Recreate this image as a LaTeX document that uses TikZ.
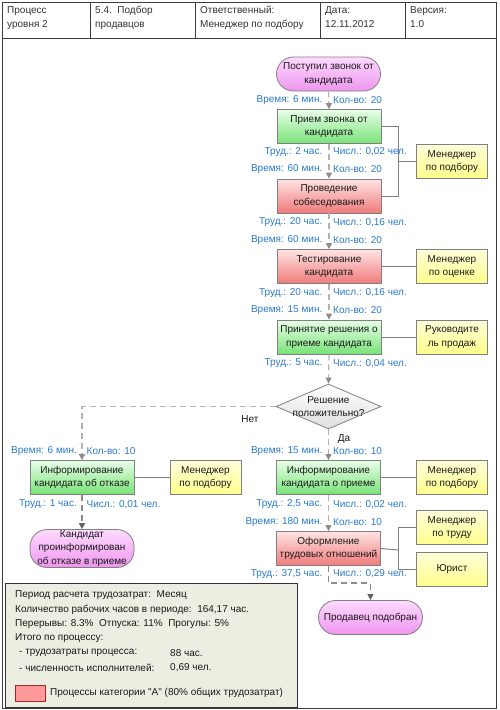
\documentclass[tikz,border=0pt]{standalone}
\usepackage{fontspec}
\newfontfamily\lsans{Liberation Sans}
\setmainfont{Liberation Sans}
\usetikzlibrary{shapes.geometric,arrows.meta}
\definecolor{lbl}{RGB}{40,122,204}
\definecolor{bord}{RGB}{128,128,128}
\definecolor{dashc}{RGB}{178,178,178}
\definecolor{dashd}{RGB}{140,140,140}
\definecolor{tipc}{RGB}{140,140,140}
\definecolor{tipd}{RGB}{100,100,100}
\definecolor{txt}{RGB}{25,25,25}
\definecolor{legbg}{RGB}{236,238,226}
\definecolor{legred}{RGB}{255,153,153}
\begin{document}
\begin{tikzpicture}[x=1pt,y=-1pt,
  font=\lsans\fontsize{10}{13.5}\selectfont, text=txt,
  box/.style={draw=bord, line width=0.8pt, minimum width=104pt, minimum height=34pt, inner sep=1pt, align=center},
  grn/.style={box, top color={rgb,255:red,232;green,255;blue,232}, bottom color={rgb,255:red,120;green,226;blue,120}},
  redb/.style={box, top color={rgb,255:red,255;green,228;blue,228}, bottom color={rgb,255:red,240;green,122;blue,122}},
  yel/.style={box, minimum width=71pt, top color={rgb,255:red,255;green,255;blue,218}, bottom color={rgb,255:red,255;green,255;blue,140}},
  term/.style={box, rounded corners=17pt, top color={rgb,255:red,255;green,218;blue,255}, bottom color={rgb,255:red,238;green,150;blue,238}},
  decision/.style={diamond, draw=bord, line width=0.8pt, minimum width=105pt, minimum height=45pt, inner sep=0pt, top color=white, bottom color={rgb,255:red,222;green,222;blue,222}},
  lblL/.style={anchor=east, text=lbl, inner sep=0pt},
  lblR/.style={anchor=west, text=lbl, inner sep=0pt},
  flow/.style={draw=dashc, line width=1.2pt, dash pattern=on 6pt off 4pt, -{Triangle[width=6pt,length=6pt,color=tipc]}},
  flowd/.style={draw=dashd, line width=1.2pt, dash pattern=on 6pt off 4pt, -{Triangle[width=6pt,length=6pt,color=tipd]}},
  role/.style={draw=bord, line width=1pt},
  hdr/.style={anchor=north west, align=left, inner sep=0pt, text={rgb,255:red,50;green,50;blue,50}, font=\lsans\fontsize{10}{14}\selectfont},
  legt/.style={anchor=west, inner sep=0pt}
]
\useasboundingbox (0,0) rectangle (499,710);
% frame and header
\draw[draw={rgb,255:red,60;green,60;blue,60}, line width=1pt] (2,2) rectangle (496,708);
\draw[draw={rgb,255:red,60;green,60;blue,60}, line width=1pt] (2,38) -- (496,38);
\foreach \xx in {90,195,320,405} \draw[draw={rgb,255:red,60;green,60;blue,60}, line width=1pt] (\xx,2) -- (\xx,38);
\node[hdr] (h1) at (7,6) {Процесс\\уровня 2};
\node[hdr] (h2) at (95,6) {5.4.\ \ Подбор\\продавцов};
\node[hdr] (h3) at (200,6) {Ответственный:\\Менеджер по подбору};
\node[hdr] (h4) at (325,6) {Дата:\\12.11.2012};
\node[hdr] (h5) at (410,6) {Версия:\\1.0};

% main column
\node[term] (start) at (328.5,74) {Поступил звонок от\\кандидата};
\node[grn] (b1) at (329,126.5) {Прием звонка от\\кандидата};
\node[redb] (b2) at (329,196) {Проведение\\собеседования};
\node[redb] (b3) at (329,266.5) {Тестирование\\кандидата};
\node[grn] (b4) at (329,337) {Принятие решения о\\приеме кандидата};
\node[decision] (d) at (328.5,406.5) {};
\node (dt) at (328.5,406.5) [align=center, inner sep=0pt] {Решение\\положительно?};
\node[grn] (b5) at (328.5,477.5) {Информирование\\кандидата о приеме};
\node[redb] (b6) at (328.5,548.5) {Оформление\\трудовых отношений};
\node[term] (end) at (370.5,617.5) {Продавец подобран};
% left column
\node[grn] (l1) at (82,477.5) {Информирование\\кандидата об отказе};
\node[term] (l2) at (82,548.5) {Кандидат\\проинформирован\\об отказе в приеме};
% roles
\node[yel] (r1) at (452,161.5) {Менеджер\\по подбору};
\node[yel] (r2) at (452,266.5) {Менеджер\\по оценке};
\node[yel] (r3) at (452,337) {Руководите\\ль продаж};
\node[yel] (r4) at (452,477.5) {Менеджер\\по подбору};
\node[yel] (r5) at (452,527.5) {Менеджер\\по труду};
\node[yel] (r6) at (452,569.5) {Юрист};
\node[yel] (rl) at (205.5,477.5) {Менеджер\\по подбору};

% role connectors
\coordinate (j1) at (398,161.5);
\coordinate (j2) at (398,550);
\draw[role] (b1.east) -| (j1) -- (r1.west);
\draw[role] (b2.east) -| (j1);
\draw[role] (b3.east) -- (r2.west);
\draw[role] (b4.east) -- (r3.west);
\draw[role] (b5.east) -- (r4.west);
\draw[role] (l1.east) -- (rl.west);
\draw[role] (b6.east) -- (j2);
\draw[role] (r5.west) -| (j2);
\draw[role] (r6.west) -| (j2);

% flow connectors
\draw[flow] (start.south) -- (b1.north);
\draw[flow] (b1.south) -- (b2.north);
\draw[flow] (b2.south) -- (b3.north);
\draw[flow] (b3.south) -- (b4.north);
\draw[flow] (b4.south) -- (d.north);
\draw[flow] (d.south) -- (b5.north);
\draw[flow] (b5.south) -- (b6.north);
\draw[flow] (d.west) -| (l1.north);
\draw[flowd] (l1.south) -- (l2.north);
\coordinate (m1) at (350,583);
\draw[flowd] (b6.south) |- (m1) -| (end.north);

\node (no) at (250,419) {Нет};
\node (yes) at (344,439) {Да};

% labels main
\foreach \yy/\ll/\rr [count=\i] in {
  100/{Время: 6 мин.}/{Кол-во: 20},
  152/{Труд.: 2 час.}/{Числ.: 0,02 чел.},
  169.5/{Время: 60 мин.}/{Кол-во: 20},
  222.5/{Труд.: 20 час.}/{Числ.: 0,16 чел.},
  240.5/{Время: 60 мин.}/{Кол-во: 20},
  293/{Труд.: 20 час.}/{Числ.: 0,16 чел.},
  310.5/{Время: 15 мин.}/{Кол-во: 20},
  363.5/{Труд.: 5 час.}/{Числ.: 0,04 чел.},
  451.5/{Время: 15 мин.}/{Кол-во: 10},
  504.5/{Труд.: 2,5 час.}/{Числ.: 0,02 чел.},
  522/{Время: 180 мин.}/{Кол-во: 10},
  574/{Труд.: 37,5 час.}/{Числ.: 0,29 чел.}}{
  \node[lblL] (ml\i) at (322.5,\yy) {\ll};
  \node[lblR] (mr\i) at (333,\yy) {\rr};
}
\node[lblL] (ll1) at (77,451.5) {Время: 6 мин.};
\node[lblR] (lr1) at (86.5,451.5) {Кол-во: 10};
\node[lblL] (ll2) at (77,504.5) {Труд.: 1 час.};
\node[lblR] (lr2) at (86.5,504.5) {Числ.: 0,01 чел.};

% legend
\draw[fill=legbg, draw={rgb,255:red,50;green,50;blue,50}, line width=1pt] (5,583) rectangle (297,707);
\node[legt] (g1) at (15,595) {Период расчета трудозатрат:\ \ Месяц};
\node[legt] (g2) at (15,609.5) {Количество рабочих часов в периоде:\ \ 164,17 час.};
\node[legt] (g3) at (15,624) {Перерывы: 8.3\%\ \ Отпуска: 11\%\ \ Прогулы: 5\%};
\node[legt] (g4) at (15,638.5) {Итого по процессу:};
\node[legt] (g5) at (19,653) {- трудозатраты процесса:};
\node[legt] (g5v) at (170,653) {88 час.};
\node[legt] (g6) at (19,667.5) {- численность исполнителей:};
\node[legt] (g6v) at (170,667.5) {0,69 чел.};
\node[draw={rgb,255:red,150;green,40;blue,40}, fill=legred, line width=0.8pt, minimum width=30pt, minimum height=16pt, inner sep=0pt] (gsq) at (30,693) {};
\node[legt] (g7) at (50,693) {Процессы категории "А" (80\% общих трудозатрат)};
\end{tikzpicture}
\end{document}
